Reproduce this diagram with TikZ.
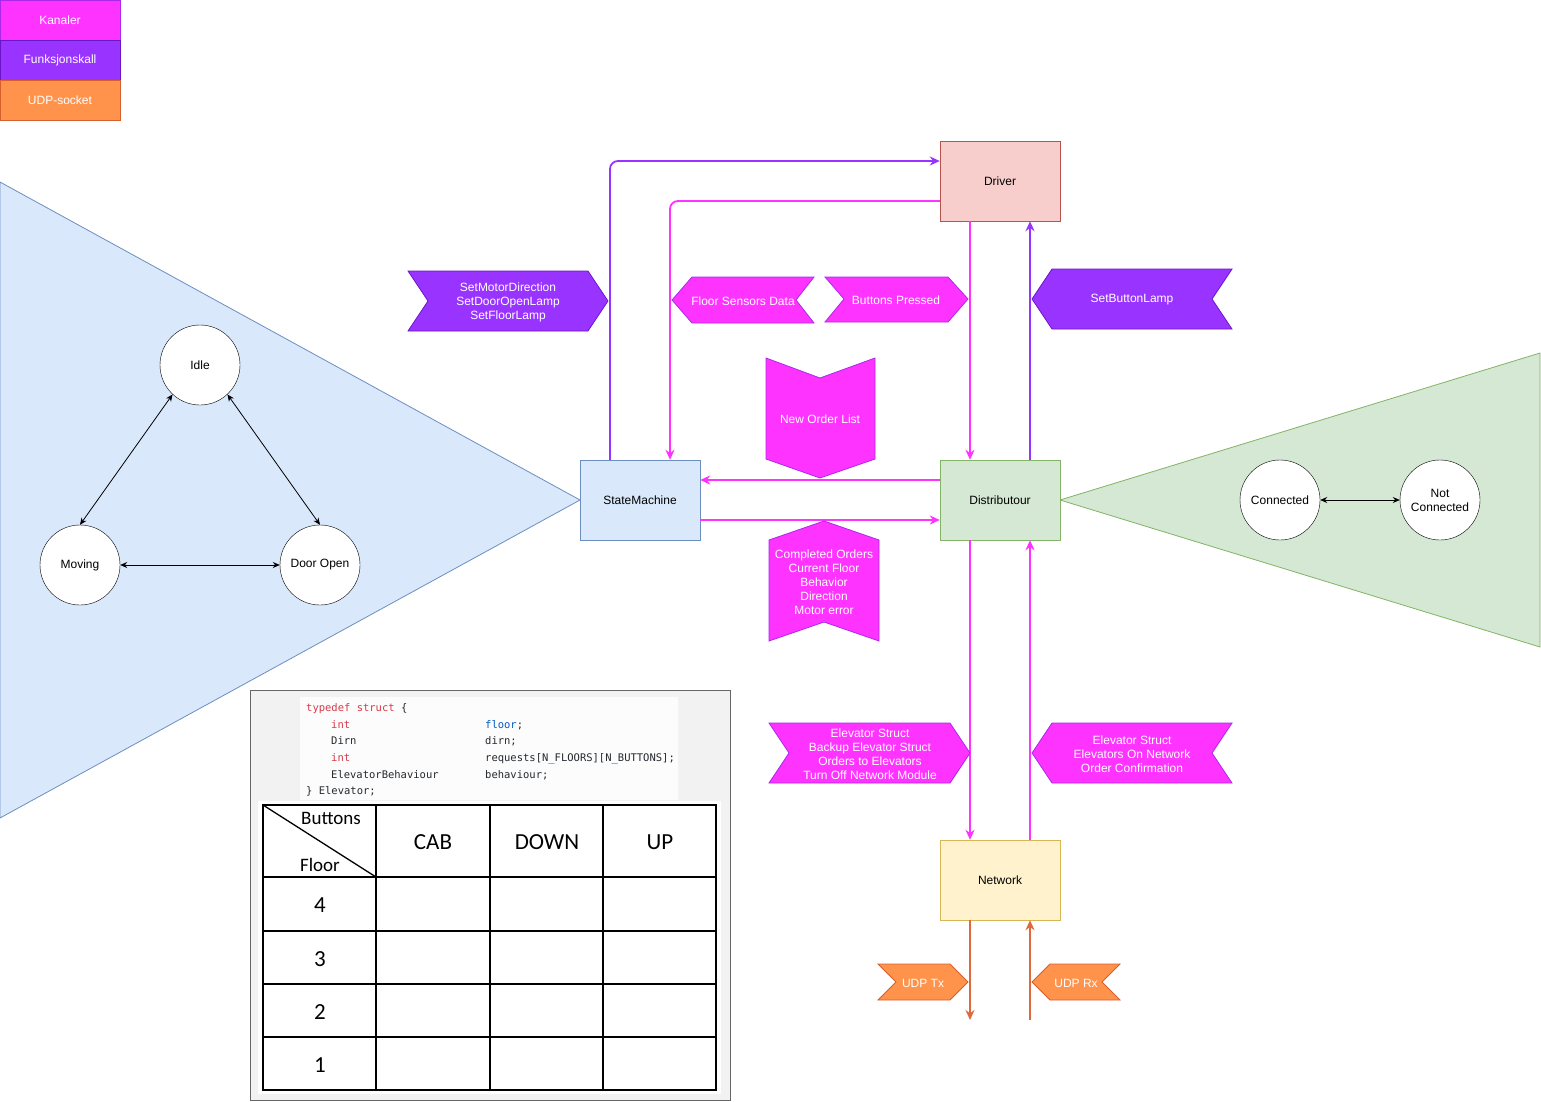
\documentclass[tikz,border=0pt]{standalone}
\usepackage{fontspec}
\setmainfont{Liberation Sans}
\newfontfamily\codefont{DejaVu Sans Mono}
\newfontfamily\tabfont{Carlito}
\usetikzlibrary{arrows.meta}
\definecolor{kanal}{RGB}{255,51,255}
\definecolor{kanaledge}{RGB}{170,40,235}
\definecolor{funcall}{RGB}{153,51,255}
\definecolor{funcalledge}{RGB}{110,20,200}
\definecolor{udp}{RGB}{255,147,76}
\definecolor{udpedge}{RGB}{215,95,45}
\definecolor{udpline}{RGB}{222,105,60}
\definecolor{smfill}{RGB}{218,232,252}
\definecolor{smedge}{RGB}{108,142,191}
\definecolor{distfill}{RGB}{213,232,212}
\definecolor{distedge}{RGB}{130,179,102}
\definecolor{drvfill}{RGB}{248,206,204}
\definecolor{drvedge}{RGB}{184,84,80}
\definecolor{netfill}{RGB}{255,242,204}
\definecolor{netedge}{RGB}{214,182,86}
\definecolor{kw}{RGB}{215,58,73}
\definecolor{ident}{RGB}{0,92,197}
\definecolor{codetxt}{RGB}{36,41,46}

\begin{document}
\begin{tikzpicture}[x=1pt, y=-1pt,
    font=\fontsize{12}{14}\selectfont,
    legend/.style={rectangle, minimum width=120pt, minimum height=40pt, text=white},
    module/.style={rectangle, minimum width=120pt, minimum height=80pt},
    state/.style={circle, draw=black, fill=white, minimum size=80pt, inner sep=0pt, align=center},
    flagk/.style={fill=kanal, draw=kanaledge, line width=0.8pt},
    flagf/.style={fill=funcall, draw=funcalledge, line width=0.8pt},
    flagu/.style={fill=udp, draw=udpedge, line width=0.8pt},
    lbl/.style={text=white, align=center},
    chan/.style={-{Stealth[length=10pt,width=9pt]}, line width=1.8pt, kanal, rounded corners=8pt},
    call/.style={-{Stealth[length=10pt,width=9pt]}, line width=1.8pt, funcall, rounded corners=8pt},
    sock/.style={-{Stealth[length=10pt,width=9pt]}, line width=1.8pt, udpline},
    trans/.style={{Stealth[length=7pt,width=6pt]}-{Stealth[length=7pt,width=6pt]}, line width=0.8pt},
    code/.style={anchor=base west, inner sep=0pt, font=\codefont\fontsize{10.5}{12}\selectfont, text=codetxt},
    cell/.style={font=\tabfont\fontsize{23}{26}\selectfont}]

    \useasboundingbox (0,0) rectangle (1541,1101);

    % Legend
    \node[legend, fill=kanal, draw=kanaledge] (legkanal) at (60,20) {Kanaler};
    \node[legend, fill=funcall, draw=funcalledge] (legfunc) at (60,60) {Funksjonskall};
    \node[legend, fill=udp, draw=udpedge] (legudp) at (60,100) {UDP-socket};

    % Background triangles
    \filldraw[fill=smfill, draw=smedge, line width=0.8pt] (0,182) -- (580,500) -- (0,818) -- cycle;
    \filldraw[fill=distfill, draw=distedge, line width=0.8pt] (1540,353) -- (1060,500) -- (1540,647) -- cycle;

    % Elevator states
    \node[state] (idle) at (200,365) {Idle};
    \node[state] (moving) at (80,565) {Moving};
    \node[state] (dooropen) at (320,565) {Door Open};
    \draw[trans] (idle.227) -- (moving.north);
    \draw[trans] (idle.-47) -- (dooropen.north);
    \draw[trans] (moving.east) -- (dooropen.west);

    % Network states
    \node[state] (connected) at (1280,500) {Connected};
    \node[state] (notconn) at (1440,500) {Not\\Connected};
    \draw[trans] (connected.east) -- (notconn.west);

    % Modules
    \node[module, fill=smfill, draw=smedge] (sm) at (640,500) {StateMachine};
    \node[module, fill=distfill, draw=distedge] (dist) at (1000,500) {Distributour};
    \node[module, fill=drvfill, draw=drvedge] (driver) at (1000,181) {Driver};
    \node[module, fill=netfill, draw=netedge] (net) at (1000,880) {Network};

    % Connections
    \draw[call] ([xshift=-30pt]sm.north) |- ([yshift=20pt]driver.west);
    \draw[chan] ([yshift=-20pt]driver.west) -| ([xshift=30pt]sm.north);
    \draw[chan] ([xshift=-30pt]driver.south) -- ([xshift=-30pt]dist.north);
    \draw[call] ([xshift=30pt]dist.north) -- ([xshift=30pt]driver.south);
    \draw[chan] ([yshift=20pt]dist.west) -- ([yshift=20pt]sm.east);
    \draw[chan] ([yshift=-20pt]sm.east) -- ([yshift=-20pt]dist.west);
    \draw[chan] ([xshift=-30pt]dist.south) -- ([xshift=-30pt]net.north);
    \draw[chan] ([xshift=30pt]net.north) -- ([xshift=30pt]dist.south);
    \coordinate (txend) at (970,1020);
    \coordinate (rxstart) at (1030,1020);
    \draw[sock] ([xshift=-30pt]net.south) -- (txend);
    \draw[sock] (rxstart) -- ([xshift=30pt]net.south);

    % Message labels
    \filldraw[flagf] (408,271) -- (588,271) -- (608,301) -- (588,331) -- (408,331) -- (428,301) -- cycle;
    \node[lbl] (setmotor) at (508,302) {SetMotorDirection\\SetDoorOpenLamp\\SetFloorLamp};
    \filldraw[flagk] (692,277) -- (814,277) -- (796,300) -- (814,323) -- (692,323) -- (672,300) -- cycle;
    \node[lbl] (floorsens) at (743,301) {Floor Sensors Data};
    \filldraw[flagk] (825,277) -- (948,277) -- (968,299) -- (948,322) -- (825,322) -- (844,299) -- cycle;
    \node[lbl] (buttons) at (896,300) {Buttons Pressed};
    \filldraw[flagf] (1052,269) -- (1232,269) -- (1212,299) -- (1232,329) -- (1052,329) -- (1032,299) -- cycle;
    \node[lbl] (setbutton) at (1132,300) {SetButtonLamp};
    \filldraw[flagk] (766,358) -- (820,378) -- (875,358) -- (875,459) -- (820,478) -- (766,459) -- cycle;
    \node[lbl] (neworder) at (820,419) {New Order List};
    \filldraw[flagk] (769,540) -- (824,521) -- (879,540) -- (879,641) -- (824,622) -- (769,641) -- cycle;
    \node[lbl] (completed) at (824,582) {Completed Orders\\Current Floor\\Behavior\\Direction\\Motor error};
    \filldraw[flagk] (769,723) -- (950,723) -- (970,753) -- (950,783) -- (769,783) -- (789,753) -- cycle;
    \node[lbl] (elevout) at (870,754) {Elevator Struct\\Backup Elevator Struct\\Orders to Elevators\\Turn Off Network Module};
    \filldraw[flagk] (1052,723) -- (1232,723) -- (1212,753) -- (1232,783) -- (1052,783) -- (1032,753) -- cycle;
    \node[lbl] (elevin) at (1132,754) {Elevator Struct\\Elevators On Network\\Order Confirmation};
    \filldraw[flagu] (878,964) -- (950,964) -- (968,982) -- (950,1000) -- (878,1000) -- (896,982) -- cycle;
    \node[lbl] (udptx) at (923,983) {UDP Tx};
    \filldraw[flagu] (1050,964) -- (1120,964) -- (1102,982) -- (1120,1000) -- (1050,1000) -- (1032,982) -- cycle;
    \node[lbl] (udprx) at (1076,983) {UDP Rx};

    % Elevator struct and request table
    \filldraw[fill=black!5, draw=black!60, line width=0.8pt] (250,690) rectangle (730,1100);
    \fill[white!60!black!3] (300,697) rectangle (678,800);
    \node[code] (c1) at (306,711) {\color{kw}typedef struct \color{codetxt}\{};
    \node[code] (c2) at (331,728) {\color{kw}int};
    \node[code] (c2b) at (485,728) {\color{ident}floor\color{codetxt};};
    \node[code] (c3) at (331,744) {Dirn};
    \node[code] (c3b) at (485,744) {dirn;};
    \node[code] (c4) at (331,761) {\color{kw}int};
    \node[code] (c4b) at (485,761) {requests[N\_FLOORS][N\_BUTTONS];};
    \node[code] (c5) at (331,778) {ElevatorBehaviour};
    \node[code] (c5b) at (485,778) {behaviour;};
    \node[code] (c6) at (306,794) {\} Elevator;};

    \fill[white] (258,801) rectangle (721,1094);
    \draw[line width=1.8pt] (263,805) rectangle (716,1090);
    \draw[line width=1.8pt] (376,805) -- (376,1090) (490,805) -- (490,1090) (603,805) -- (603,1090);
    \draw[line width=1.8pt] (263,877) -- (716,877) (263,931) -- (716,931) (263,984) -- (716,984) (263,1037) -- (716,1037);
    \draw[line width=1.3pt] (263,805) -- (376,877);
    \node[font=\tabfont\fontsize{19}{22}\selectfont] (hbuttons) at (331,818) {Buttons};
    \node[font=\tabfont\fontsize{19}{22}\selectfont] (hfloor) at (320,865) {Floor};
    \node[cell] (hcab) at (433,842) {CAB};
    \node[cell] (hdown) at (547,842) {DOWN};
    \node[cell] (hup) at (660,842) {UP};
    \node[cell] (f4) at (320,905) {4};
    \node[cell] (f3) at (320,959) {3};
    \node[cell] (f2) at (320,1012) {2};
    \node[cell] (f1) at (320,1065) {1};

\end{tikzpicture}
\end{document}
